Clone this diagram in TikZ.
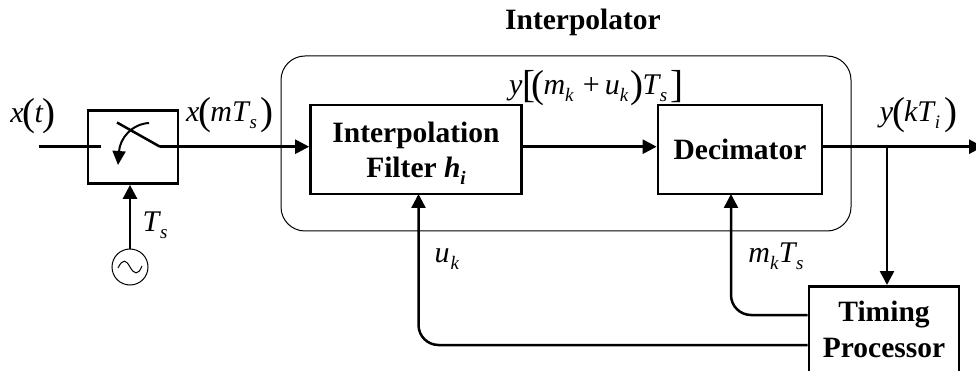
\documentclass[tikz,border=0pt]{standalone}
\usepackage{fontspec}
\setmainfont{Liberation Serif}
\usetikzlibrary{arrows.meta,calc}
\tikzset{
  blockbox/.style={draw,line width=2.7pt,minimum width=#1,minimum height=89pt,inner sep=0pt,align=center,font=\fontsize{29.5}{35}\selectfont\bfseries},
  sig/.style={line width=2.5pt,-{Triangle[length=14pt,width=14pt]}},
  plain/.style={line width=2.5pt},
  lab/.style={inner sep=0pt,font=\fontsize{30}{36}\selectfont},
}
\newcommand{\sbsc}[1]{\raisebox{-7pt}[0pt][0pt]{\fontsize{19}{24}\selectfont\textit{#1}}}
\newcommand{\bgd}[1]{\raisebox{-2.5pt}[0pt][0pt]{\fontsize{39}{39}\selectfont #1}}
\begin{document}
\begin{tikzpicture}[x=1pt,y=-1pt]
\useasboundingbox (0,0) rectangle (976,371);
\clip (0,0) rectangle (976,371);
\node[inner sep=0pt,font=\fontsize{29.5}{34}\selectfont\bfseries,anchor=base] (title) at (583,30) {Interpolator};
\draw[line width=1pt,rounded corners=24pt] (281,56) rectangle (851,231);
\node[blockbox=90pt,minimum height=73pt] (sampler) at (133,147) {};
\node[blockbox=211pt] (filter) at (416,149.5) {Interpolation\\Filter \textit{h}\sbsc{i}};
\node[blockbox=164pt] (decim) at (740,149.5) {Decimator};
\node[blockbox=150pt,minimum height=110pt,anchor=north] (timing) at (884,285) {};
\node[inner sep=0pt,align=center,font=\fontsize{29.5}{36}\selectfont\bfseries] (timingtxt) at (884,329) {Timing\\Processor};
\node[draw,circle,line width=1pt,minimum size=36pt,inner sep=0pt] (osc) at (130,267) {};
\draw[line width=1pt] (118,268) .. controls (123,258) and (126,260) .. (130,267) .. controls (134,274) and (138,276) .. (142,266);
\coordinate (inL) at (39,146.7);
\coordinate (inR) at (101,146.7);
\coordinate (armA) at (117,122.5);
\coordinate (armB) at (160,146.7);
\coordinate (curveA) at (149,123);
\coordinate (curveB) at (118,165);
\coordinate (outEnd) at (983,146.7);
\coordinate (tap) at (887,146.7);
\draw[plain] (inL) -- (inR);
\draw[plain] (armA) -- (armB);
\draw[sig] (armB) -- (armB -| filter.west);
\draw[line width=2pt,-{Triangle[length=14pt,width=13pt]}] (curveA) .. controls (132,124) and (120,138) .. (curveB);
\draw[sig] (osc.north) -- (osc.north |- sampler.south);
\draw[sig] (filter.east |- armB) -- (decim.west |- armB);
\draw[sig] (decim.east |- armB) -- (outEnd);
\draw[sig] (tap) -- (tap |- timing.north);
\draw[sig,rounded corners=20pt] (timing.west |- 0,315) -| (731,194);
\draw[sig,rounded corners=20pt] (timing.west |- 0,345) -| (418.5,194);
\node[lab,anchor=base] (xt) at (33,123) {\textit{x}\kern-1pt\bgd{(}\kern-1pt\textit{t}\kern-1pt\bgd{)}};
\node[lab,anchor=base] (xm) at (230,122) {\textit{x}\kern-1pt\bgd{(}\kern-1pt\textit{mT}\kern-1pt\sbsc{s}\,\kern-1pt\bgd{)}};
\node[lab,anchor=base] (ts) at (155,232) {\textit{T}\kern-1pt\sbsc{s}};
\node[lab,anchor=base west] (yy) at (509,95) {\textit{y}\kern0pt\bgd{[}\kern-4pt\bgd{(}\kern-1pt\textit{m}\sbsc{k}\kern9pt+\kern5pt\textit{u}\sbsc{k}\kern2pt\bgd{)}\kern-1pt\textit{T}\kern-1pt\sbsc{s}\kern3pt\bgd{]}};
\node[lab,anchor=base] (yk) at (918.5,122) {\textit{y}\kern-1pt\bgd{(}\kern-1pt\textit{kT}\kern-1pt\sbsc{i}\,\kern-1pt\bgd{)}};
\node[lab,anchor=base] (uk) at (447,262) {\textit{u}\kern1pt\sbsc{k}};
\node[lab,anchor=base] (mk) at (776,262) {\textit{m}\sbsc{k}\textit{T}\kern-1pt\sbsc{s}};
\end{tikzpicture}
\end{document}
